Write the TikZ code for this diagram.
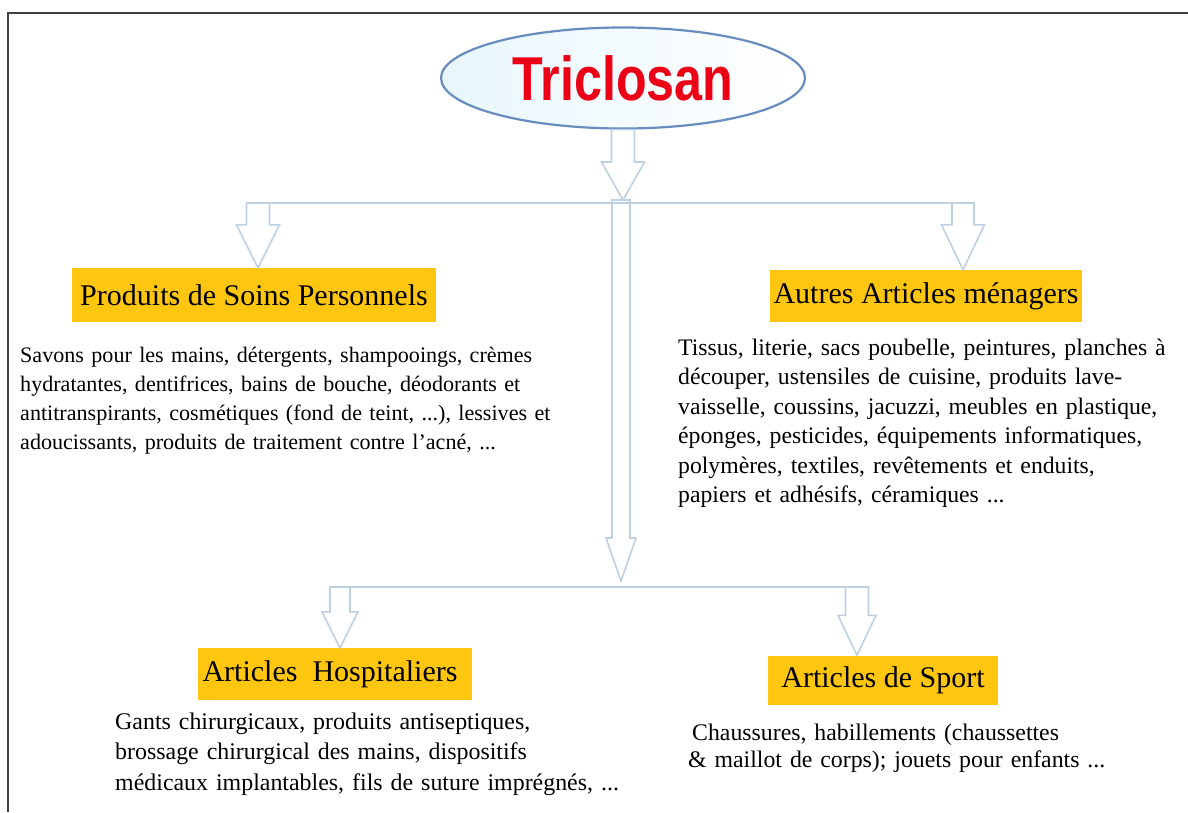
\documentclass[tikz,border=0pt]{standalone}
\usepackage{fontspec}
\setmainfont{Liberation Serif}
\newfontfamily\titlefont{Liberation Sans}
\usetikzlibrary{shapes.geometric,calc}
\definecolor{gold}{RGB}{255,198,15}
\definecolor{rim}{RGB}{104,140,190}
\definecolor{pale}{RGB}{190,209,227}
\definecolor{skyfill}{RGB}{232,247,253}
\definecolor{titlered}{RGB}{236,0,22}
\begin{document}
\begin{tikzpicture}[x = 1pt, y = -1pt,
        header/.style = {fill = gold, inner sep = 0pt, font = \fontsize{30}{34}\selectfont},
        blurb/.style = {anchor = base west, inner sep = 0pt, align = left, text width = 600pt},
        crossbar/.style = {draw = pale, line width = 2.2pt},
        blockarrow/.style args = {#1/#2/#3}{draw = pale, fill = white, line width = 1.6pt, to path = {
            let \p1 = (\tikztostart), \p2 = (\tikztotarget) in
            (\x1 - #1pt, \y1) -- (\x1 - #1pt, \y2 + #3pt) -- (\x1 - #2pt, \y2 + #3pt) -- (\x1, \y2)
            -- (\x1 + #2pt, \y2 + #3pt) -- (\x1 + #1pt, \y2 + #3pt) -- (\x1 + #1pt, \y1) -- cycle}}]
    \useasboundingbox (0, 0) rectangle (1188, 812);
    \draw [line width = 1.6pt, black!75] (8, 812) -- (8, 13) -- (1188, 13);

    \node [ellipse, draw = rim, line width = 2.2pt, left color = skyfill, right color = white,
        minimum width = 364pt, minimum height = 101pt, text = titlered,
        font = \titlefont\bfseries\fontsize{62}{62}\selectfont] (tric) at (623, 78) {\scalebox{0.81}[1]{Triclosan}};

    \node [header, minimum width = 364pt, minimum height = 54pt] (soins) at (254, 295) {Produits de Soins Personnels};
    \node [header, minimum width = 312pt, minimum height = 52pt] (menag) at (926, 296) {Autres Articles ménagers};
    \node [header, minimum width = 274pt, minimum height = 52pt] (hosp) at (335, 674) {\hspace*{-10pt}Articles\ \ Hospitaliers};
    \node [header, minimum width = 230pt, minimum height = 49pt] (sport) at (883, 680) {Articles de Sport};

    \coordinate (hub) at (621, 200);
    \coordinate (foot) at (621, 581);
    \coordinate (barL) at (246, 203);
    \coordinate (barR) at (975, 203);
    \coordinate (legL) at (329, 587);
    \coordinate (legR) at (869, 587);
    \coordinate (forkA) at (258, 203);
    \coordinate (forkB) at (963, 203);
    \coordinate (forkC) at (340, 587);
    \coordinate (forkD) at (857, 587);

    \draw [blockarrow = 11.5/21.5/38] (tric.south) to (hub);
    \draw [blockarrow = 9/15/43] (hub) to (foot);
    \draw [blockarrow = 11.5/21.5/43] (forkA) to (soins.north);
    \draw [blockarrow = 11/21.5/45] (forkB) to (menag.north);
    \draw [blockarrow = 10/18/36] (forkC) to (hosp.north);
    \draw [blockarrow = 11.5/19/40] (forkD) to (sport.north);
    \draw [crossbar] (barL) -- (barR);
    \draw [crossbar] (legL) -- (legR);

    \node [blurb, font = \fontsize{22.1}{29}\selectfont] (soinstext) at (20, 362) {Savons pour les mains, détergents, shampooings, crèmes\\
        hydratantes, dentifrices, bains de bouche, déodorants et\\
        antitranspirants, cosmétiques (fond de teint, ...), lessives et\\
        adoucissants, produits de traitement contre l'acné, ...};
    \node [blurb, font = \fontsize{23.7}{29.5}\selectfont] (menagtext) at (678, 355) {Tissus, literie, sacs poubelle, peintures, planches à\\
        découper, ustensiles de cuisine, produits lave-\\
        vaisselle, coussins, jacuzzi, meubles en plastique,\\
        éponges, pesticides, équipements informatiques,\\
        polymères, textiles, revêtements et enduits,\\
        papiers et adhésifs, céramiques ...};
    \node [blurb, font = \fontsize{23.9}{30.5}\selectfont] (hosptext) at (115, 729) {Gants chirurgicaux, produits antiseptiques,\\
        brossage chirurgical des mains, dispositifs\\
        médicaux implantables, fils de suture imprégnés, ...};
    \node [blurb, font = \fontsize{23.8}{27}\selectfont] (sporttext) at (688, 740) {\hspace{4pt}Chaussures, habillements (chaussettes\\
        \& maillot de corps); jouets pour enfants ...};
\end{tikzpicture}
\end{document}
